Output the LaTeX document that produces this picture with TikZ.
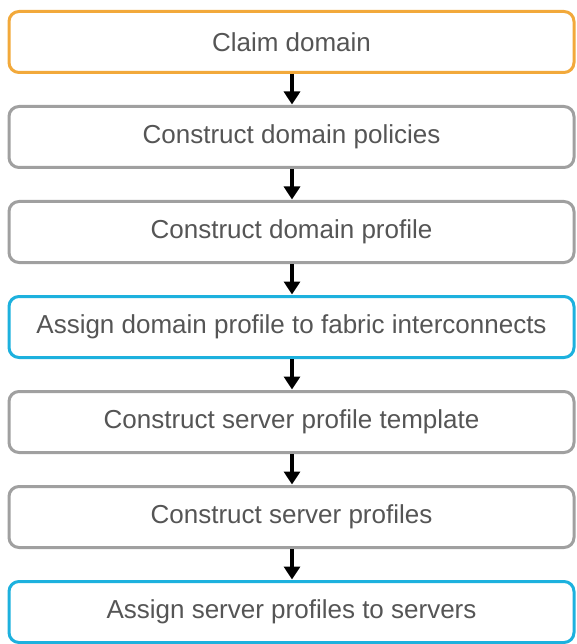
\documentclass[tikz,border=0pt]{standalone}
\usepackage{fontspec}
\setmainfont{Liberation Sans}
\usetikzlibrary{arrows.meta}
\definecolor{borange}{HTML}{F2A93B}
\definecolor{bgray}{HTML}{A0A0A0}
\definecolor{bcyan}{HTML}{1DB1DE}
\definecolor{tgray}{HTML}{555555}
\tikzset{
  stepbox/.style={draw=bgray, line width=3pt, rounded corners=10pt, minimum width=565pt, minimum height=61pt, inner sep=0pt, font=\fontsize{26}{30}\selectfont, text=tgray, fill=white},
  orangebox/.style={stepbox, draw=borange},
  cyanbox/.style={stepbox, draw=bcyan},
  flow/.style={line width=4.5pt, black, -{Triangle[width=16pt,length=13pt]}, shorten >=0.5pt}
}
\begin{document}
\begin{tikzpicture}[x=1pt,y=-1pt]
\useasboundingbox (0,0) rectangle (576,644);
\node[orangebox] (b1) at (291.5,42) {Claim domain};
\node[stepbox] (b2) at (291.5,137) {Construct domain policies};
\node[stepbox] (b3) at (291.5,232) {Construct domain profile};
\node[cyanbox] (b4) at (291.5,327) {Assign domain profile to fabric interconnects};
\node[stepbox] (b5) at (291.5,422) {Construct server profile template};
\node[stepbox] (b6) at (291.5,517) {Construct server profiles};
\node[cyanbox] (b7) at (291.5,612) {Assign server profiles to servers};
\foreach \a/\b in {b1/b2,b2/b3,b3/b4,b4/b5,b5/b6,b6/b7}{
  \draw[flow] ([xshift=0.5pt]\a.south) -- ([xshift=0.5pt]\b.north);
}
\end{tikzpicture}
\end{document}
